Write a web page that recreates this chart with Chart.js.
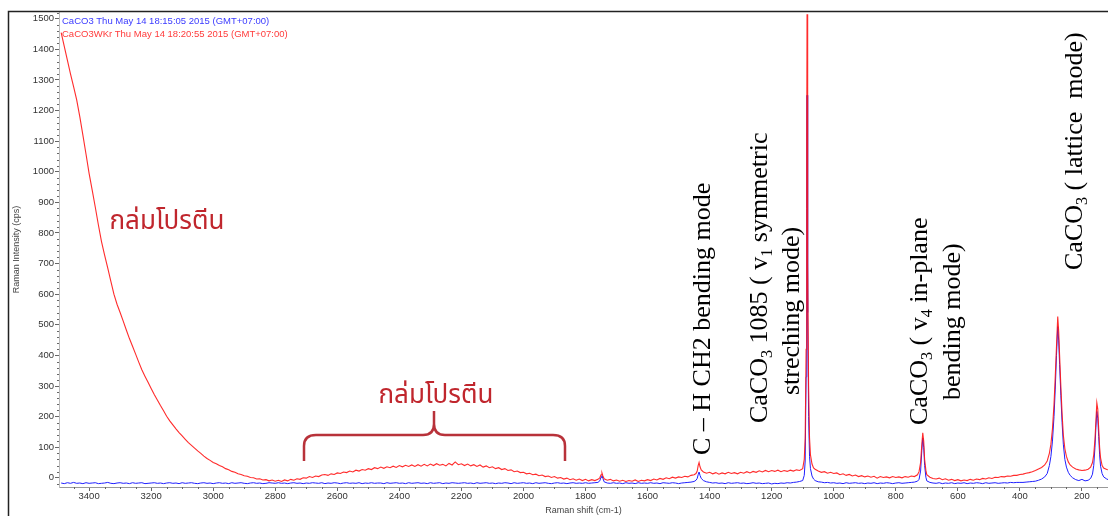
<!DOCTYPE html>
<html>
<head>
<meta charset="utf-8">
<script src="https://cdn.jsdelivr.net/npm/chart.js@4"></script>
<style>
  html, body { margin: 0; padding: 0; background: #fff; }
  #wrap { width: 1108px; height: 516px; position: relative; }
</style>
</head>
<body>
<div id="wrap"><canvas id="ramanChart"></canvas></div>
<script>
// Raman shift (cm-1), shared by both spectra
var shiftCm = [
  3490,3480,3470,3460,3450,3440,3430,3420,3410,3400,
  3390,3380,3370,3360,3350,3340,3330,3320,3310,3300,
  3290,3280,3270,3260,3250,3240,3230,3220,3210,3200,
  3190,3180,3170,3160,3150,3140,3130,3120,3110,3100,
  3090,3080,3070,3060,3050,3040,3030,3020,3010,3000,
  2990,2980,2970,2960,2950,2940,2930,2920,2910,2900,
  2890,2880,2870,2860,2850,2840,2830,2820,2810,2800,
  2790,2780,2770,2760,2750,2740,2730,2720,2710,2700,
  2690,2680,2670,2660,2650,2640,2630,2620,2610,2600,
  2590,2580,2570,2560,2550,2540,2530,2520,2510,2500,
  2490,2480,2470,2460,2450,2440,2430,2420,2410,2400,
  2390,2380,2370,2360,2350,2340,2330,2320,2310,2300,
  2290,2280,2270,2260,2250,2240,2230,2220,2210,2200,
  2190,2180,2170,2160,2150,2140,2130,2120,2110,2100,
  2090,2080,2070,2060,2050,2040,2030,2020,2010,2000,
  1990,1980,1970,1960,1950,1940,1930,1920,1910,1900,
  1890,1880,1870,1860,1850,1840,1830,1820,1810,1800,
  1790,1780,1770,1760,1754,1750,1747,1744,1740,1730,1720,1710,1700,
  1690,1680,1670,1660,1650,1640,1630,1620,1610,1600,
  1590,1580,1570,1560,1550,1540,1530,1520,1510,1500,1490,1480,1470,1460,1450,
  1444,1440,1437,1434,1431,1427,1420,1410,1400,
  1390,1380,1370,1360,1350,1340,1330,1320,1310,1300,
  1290,1280,1270,1260,1250,1240,1230,1220,1210,1200,
  1190,1180,1170,1160,1150,1140,1130,1120,1110,
  1100,1095,1092,1089,1087,1086,1085,1083,1081,1078,1075,1070,1065,1060,1050,1040,1030,1020,1010,1000,
  990,980,970,960,950,940,930,920,910,900,
  890,880,870,860,850,840,830,820,810,800,790,780,770,760,750,740,
  730,725,720,716,713,710,707,703,700,690,
  680,670,660,650,640,630,620,610,600,590,580,570,560,550,540,530,520,510,500,490,480,470,460,450,440,430,420,410,400,
  390,380,370,360,350,340,330,320,312,305,300,295,290,286,282,278,275,272,268,264,
  260,255,250,244,238,230,220,210,200,190,180,172,166,162,158,155,152,149,146,143,
  140,135,130,120,115
];

// CaCO3 (blue)
var caco3 = [
  -17,-19,-16,-18,-15,-18,-17,-19,-16,-18,
  -17,-16,-19,-18,-17,-15,-18,-19,-17,-16,
  -18,-17,-19,-16,-18,-17,-16,-19,-18,-17,
  -16,-18,-17,-19,-17,-16,-18,-17,-19,-16,
  -18,-17,-16,-18,-19,-17,-16,-18,-17,-19,
  -17,-16,-18,-17,-19,-16,-18,-17,-16,-18,
  -19,-17,-16,-18,-17,-19,-18,-16,-17,-18,
  -16,-18,-17,-19,-17,-16,-18,-17,-19,-17,
  -18,-16,-17,-18,-16,-19,-17,-18,-16,-17,
  -19,-17,-16,-18,-17,-18,-16,-19,-17,-18,
  -16,-18,-17,-17,-19,-16,-18,-17,-16,-18,
  -17,-19,-16,-18,-17,-16,-18,-17,-19,-16,
  -18,-17,-16,-19,-17,-18,-16,-17,-18,-17,
  -16,-18,-17,-19,-16,-18,-17,-16,-18,-17,
  -19,-17,-18,-16,-17,-19,-16,-18,-17,-16,
  -18,-17,-19,-16,-18,-17,-16,-18,-19,-17,
  -16,-18,-17,-19,-17,-16,-18,-17,-18,-16,
  -18,-17,-16,-15,-10,2,7,-2,-13,-17,-18,-16,-18,
  -17,-19,-16,-18,-17,-19,-16,-18,-17,-18,
  -16,-18,-17,-19,-16,-17,-18,-16,-17,-19,-17,-16,-15,-14,-12,
  -8,-2,10,19,8,-2,-9,-13,-15,
  -17,-16,-18,-17,-19,-16,-18,-17,-16,-18,
  -17,-19,-18,-16,-18,-17,-19,-18,-17,-20,
  -18,-19,-17,-18,-16,-17,-15,-14,-12,
  -9,8,55,330,880,1250,1080,540,200,70,30,6,-4,-9,-13,-14,-16,-15,-17,-16,
  -18,-17,-19,-16,-18,-17,-16,-18,-17,-19,
  -17,-18,-16,-19,-17,-18,-16,-17,-19,-17,-16,-18,-17,-16,-15,-14,
  -11,-5,22,90,130,100,40,2,-10,-15,
  -17,-18,-16,-19,-17,-18,-16,-19,-17,-18,-16,-19,-17,-18,-16,-17,-19,-16,-18,-17,-16,-18,-17,-16,-17,-15,-16,-15,-15,
  -15,-14,-13,-12,-11,-8,-4,3,14,40,70,120,200,290,400,494,450,370,270,180,
  110,60,35,18,8,0,-6,-9,-5,-10,-8,-2,12,40,100,165,217,195,135,75,
  38,14,3,-4,-6
];

// CaCO3WKr (red)
var caco3WKr = [
  1455,1410,1365,1320,1278,1235,1180,1120,1058,995,
  940,884,826,772,728,686,643,600,567,540,
  512,483,455,430,404,378,353,332,312,292,
  272,254,236,219,201,186,173,160,148,137,
  126,115,106,97,88,80,71,63,57,50,
  46,40,36,30,26,21,18,13,11,7,
  5,1,0,-4,-3,-7,-6,-10,-7,-11,
  -8,-12,-7,-10,-5,-8,-3,-5,0,-1,
  4,1,6,4,9,11,8,13,11,16,
  14,19,17,22,19,25,22,27,25,30,
  27,33,30,35,31,36,33,38,34,40,
  36,41,37,42,37,43,38,44,39,45,
  40,46,41,44,39,47,42,52,43,46,
  40,45,39,43,37,42,35,39,33,36,
  30,33,27,30,24,26,20,22,17,18,
  13,15,10,12,7,9,4,6,1,4,
  -1,1,-4,-1,-6,-3,-8,-4,-9,-5,
  -10,-6,-9,-5,0,10,16,6,-3,-8,-5,-10,-7,
  -11,-8,-12,-9,-11,-7,-12,-8,-10,-6,
  -9,-4,-7,-2,-5,0,-3,2,-1,3,1,5,3,8,10,
  14,22,40,50,36,26,19,15,18,
  13,17,12,16,13,18,14,17,13,18,
  15,20,16,21,18,23,19,24,20,24,
  21,25,20,24,21,25,22,26,24,
  30,60,130,420,1100,1515,1350,700,300,130,75,45,32,28,22,18,20,15,18,14,
  16,10,13,8,11,6,9,4,7,3,
  6,2,5,-1,4,1,3,0,4,1,3,0,4,2,6,4,
  10,20,50,110,147,120,60,25,10,2,
  -2,-4,-1,-6,-3,-8,-5,-9,-6,-10,-7,-9,-5,-8,-4,-6,-2,-4,0,-2,2,1,4,3,6,5,8,8,11,
  12,15,17,20,24,29,34,42,55,80,110,160,240,330,430,527,480,400,300,210,
  140,95,70,52,42,35,29,26,24,25,28,35,50,75,125,185,245,225,160,100,
  65,40,32,27,26
];

var xTicks = [200, 400, 600, 800, 1000, 1200, 1400, 1600, 1800, 2000, 2200, 2400, 2600, 2800, 3000, 3200, 3400];
var yTicks = [0, 100, 200, 300, 400, 500, 600, 700, 800, 900, 1000, 1100, 1200, 1300, 1400, 1500];

var legendLines = [
  'CaCO3 Thu May 14 18:15:05 2015 (GMT+07:00)',
  'CaCO3WKr Thu May 14 18:20:55 2015 (GMT+07:00)'
];
var proteinLabel = 'กล่มโปรตีน';

function toPoints(ys) {
  return ys.map(function(y, i) { return { x: shiftCm[i], y: y }; });
}

// draws text rotated -90deg, parts = [[text, isSub], ...]
function drawUp(ctx, x, y, parts, size) {
  ctx.save();
  ctx.translate(x, y);
  ctx.rotate(-Math.PI / 2);
  ctx.fillStyle = '#000';
  ctx.textBaseline = 'middle';
  ctx.textAlign = 'left';
  var pos = 0;
  parts.forEach(function(p) {
    var fs = p[1] ? size * 0.62 : size;
    ctx.font = fs + 'px "Liberation Serif", "Times New Roman", serif';
    ctx.fillText(p[0], pos, p[1] ? size * 0.28 : 0);
    pos += ctx.measureText(p[0]).width;
  });
  ctx.restore();
}

var extras = {
  id: 'extras',
  afterDraw: function(chart) {
    var ctx = chart.ctx;
    var xs = chart.scales.x, ys = chart.scales.y;
    var area = chart.chartArea;
    ctx.save();

    // minor ticks
    ctx.strokeStyle = '#666';
    ctx.lineWidth = 1;
    ctx.beginPath();
    for (var v = -20; v <= 1520; v += 20) {
      if (v % 100 === 0) continue;
      var py = Math.round(ys.getPixelForValue(v)) + 0.5;
      ctx.moveTo(area.left - 2, py);
      ctx.lineTo(area.left, py);
    }
    for (var w = 150; w <= 3450; w += 50) {
      if (w % 200 === 0) continue;
      var px = Math.round(xs.getPixelForValue(w)) + 0.5;
      ctx.moveTo(px, area.bottom);
      ctx.lineTo(px, area.bottom + 2);
    }
    ctx.stroke();

    // window frame
    ctx.strokeStyle = '#222';
    ctx.lineWidth = 1.5;
    ctx.beginPath();
    ctx.moveTo(8.5, 516);
    ctx.lineTo(8.5, 11.5);
    ctx.lineTo(1108, 11.5);
    ctx.stroke();

    // legend text
    ctx.font = '9.5px "Liberation Sans", Arial, sans-serif';
    ctx.textBaseline = 'middle';
    ctx.textAlign = 'left';
    ctx.fillStyle = '#3a3aff';
    ctx.fillText(legendLines[0], 62, 21);
    ctx.fillStyle = '#ff3b3b';
    ctx.fillText(legendLines[1], 62, 34);

    // protein labels
    ctx.fillStyle = '#c0262d';
    ctx.font = '26px "Noto Sans Thai", "Noto Sans", "DejaVu Sans", sans-serif';
    ctx.textAlign = 'center';
    ctx.textBaseline = 'alphabetic';
    ctx.fillText(proteinLabel, 167, 229);
    ctx.fillText(proteinLabel, 436, 403);

    // brace under second label
    ctx.strokeStyle = '#b8323a';
    ctx.lineWidth = 2.5;
    ctx.beginPath();
    ctx.moveTo(304, 461);
    ctx.lineTo(304, 446);
    ctx.quadraticCurveTo(304, 435, 316, 435);
    ctx.lineTo(423, 435);
    ctx.quadraticCurveTo(434, 435, 434, 424);
    ctx.lineTo(434, 411);
    ctx.moveTo(434, 424);
    ctx.quadraticCurveTo(434, 435, 445, 435);
    ctx.lineTo(553, 435);
    ctx.quadraticCurveTo(565, 435, 565, 446);
    ctx.lineTo(565, 461);
    ctx.stroke();

    // band assignments
    var fs = 26;
    drawUp(ctx, 703, 455, [['C – H CH2 bending mode', false]], fs);
    drawUp(ctx, 760, 423, [['CaCO', false], ['3', true], [' 1085 ( v', false], ['1', true], [' symmetric', false]], fs);
    drawUp(ctx, 792, 395, [['streching mode)', false]], fs);
    drawUp(ctx, 920, 425, [['CaCO', false], ['3', true], [' ( v', false], ['4', true], [' in-plane', false]], fs);
    drawUp(ctx, 953, 400, [['bending mode)', false]], fs);
    drawUp(ctx, 1075, 270, [['CaCO', false], ['3', true], [' ( lattice  mode)', false]], fs);

    ctx.restore();
  }
};

var tickFont = { family: '"Liberation Sans", Arial, sans-serif', size: 9.5 };
function plainLabel(v) { return String(v); }

new Chart(document.getElementById('ramanChart').getContext('2d'), {
  type: 'line',
  data: {
    datasets: [{
      label: 'CaCO3',
      data: toPoints(caco3),
      borderColor: '#1f1fff',
      borderWidth: 1,
      pointRadius: 0,
      tension: 0,
      order: 1
    }, {
      label: 'CaCO3WKr',
      data: toPoints(caco3WKr),
      borderColor: 'rgba(255,20,20,0.9)',
      borderWidth: 1.1,
      pointRadius: 0,
      tension: 0,
      order: 0
    }]
  },
  options: {
    responsive: true,
    maintainAspectRatio: false,
    animation: false,
    layout: { padding: { top: 12, left: 0, right: 0, bottom: 0 } },
    plugins: { legend: { display: false }, tooltip: { enabled: false } },
    scales: {
      x: {
        type: 'linear',
        reverse: true,
        min: 116,
        max: 3497,
        afterBuildTicks: function(s) { s.ticks = xTicks.map(function(v) { return { value: v }; }); },
        ticks: { font: tickFont, color: '#333', padding: 0, maxRotation: 0, autoSkip: false, callback: plainLabel },
        grid: { drawOnChartArea: false, drawTicks: true, tickLength: 4, tickColor: '#666' },
        border: { color: '#999' },
        title: { display: true, text: 'Raman shift (cm-1)', font: { family: '"Liberation Sans", Arial, sans-serif', size: 9 }, color: '#444', padding: { top: 0, bottom: 0 } },
        afterFit: function(s) { s.height = 29; s.paddingLeft = 0; s.paddingRight = 0; }
      },
      y: {
        min: -30,
        max: 1522,
        afterBuildTicks: function(s) { s.ticks = yTicks.map(function(v) { return { value: v }; }); },
        ticks: { font: tickFont, color: '#333', padding: 1, autoSkip: false, callback: plainLabel },
        grid: { drawOnChartArea: false, drawTicks: true, tickLength: 4, tickColor: '#666' },
        border: { color: '#bbb' },
        title: { display: true, text: 'Raman Intensity (cps)', font: { family: '"Liberation Sans", Arial, sans-serif', size: 9 }, color: '#444', padding: { top: 11, bottom: 0 } },
        afterFit: function(s) { s.width = 59; s.paddingTop = 0; s.paddingBottom = 0; }
      }
    }
  },
  plugins: [extras]
});
</script>
</body>
</html>
